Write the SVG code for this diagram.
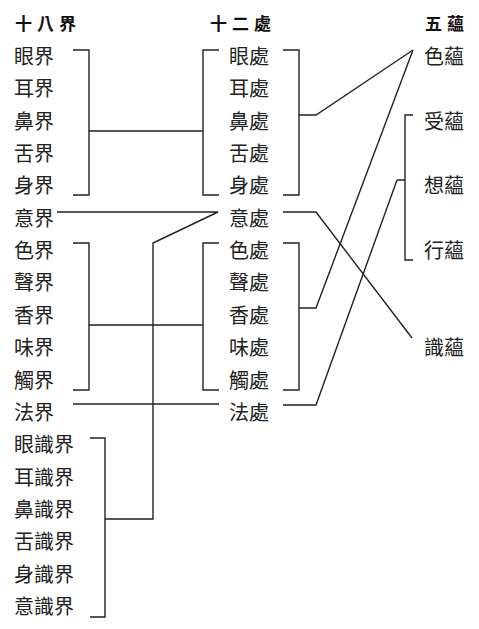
<svg xmlns="http://www.w3.org/2000/svg" width="479" height="629" viewBox="0 0 479 629">
<style>
text{font-family:"Noto Sans CJK TC","Noto Sans CJK SC",sans-serif;font-size:20px;fill:#222}
.h{font-weight:bold;font-size:17px;letter-spacing:5px;fill:#111}
.c path{fill:none;stroke:#222;stroke-width:1.4}
</style>
<rect width="479" height="629" fill="#fff"/>
<g id="headers">
<text class="h" x="15" y="30">十八界</text>
<text class="h" x="210" y="30">十二處</text>
<text class="h" x="425" y="30">五蘊</text>
</g>
<g id="jie">
<text x="14" y="64">眼界</text>
<text x="14" y="96">耳界</text>
<text x="14" y="129">鼻界</text>
<text x="14" y="161">舌界</text>
<text x="14" y="193">身界</text>
<text x="14" y="226">意界</text>
<text x="14" y="258">色界</text>
<text x="14" y="290">聲界</text>
<text x="14" y="323">香界</text>
<text x="14" y="355">味界</text>
<text x="14" y="388">觸界</text>
<text x="14" y="420">法界</text>
<text x="14" y="452">眼識界</text>
<text x="14" y="485">耳識界</text>
<text x="14" y="517">鼻識界</text>
<text x="14" y="549">舌識界</text>
<text x="14" y="582">身識界</text>
<text x="14" y="614">意識界</text>
</g>
<g id="chu">
<text x="229" y="64">眼處</text>
<text x="229" y="96">耳處</text>
<text x="229" y="129">鼻處</text>
<text x="229" y="161">舌處</text>
<text x="229" y="193">身處</text>
<text x="229" y="226">意處</text>
<text x="229" y="258">色處</text>
<text x="229" y="290">聲處</text>
<text x="229" y="323">香處</text>
<text x="229" y="355">味處</text>
<text x="229" y="388">觸處</text>
<text x="229" y="420">法處</text>
</g>
<g id="yun">
<text x="424" y="64">色蘊</text>
<text x="424" y="129">受蘊</text>
<text x="424" y="193">想蘊</text>
<text x="424" y="258">行蘊</text>
<text x="424" y="355">識蘊</text>
</g>
<g id="connectors" class="c">
<path d="M73,50 H89 V195 H73 M89,131 H203 M219,50 H203 V195 H219"/>
<path d="M73,243 H89 V390 H73 M89,325 H203 M219,243 H203 V390 H219"/>
<path d="M283,50 H299 V195 H283 M299,115 H316 L413,50"/>
<path d="M283,243 H299 V390 H283 M299,308 H316 L413,50"/>
<path d="M283,212 H316 L412,338"/>
<path d="M283,405 H316 L397,180"/>
<path d="M413,115 H405 V260 H413 M405,180 H397"/>
<path d="M57,212 H218 L153,243 V519 H105"/>
<path d="M90,438 H105 V617 H90"/>
<path d="M73,404 H219"/>
</g>
</svg>
